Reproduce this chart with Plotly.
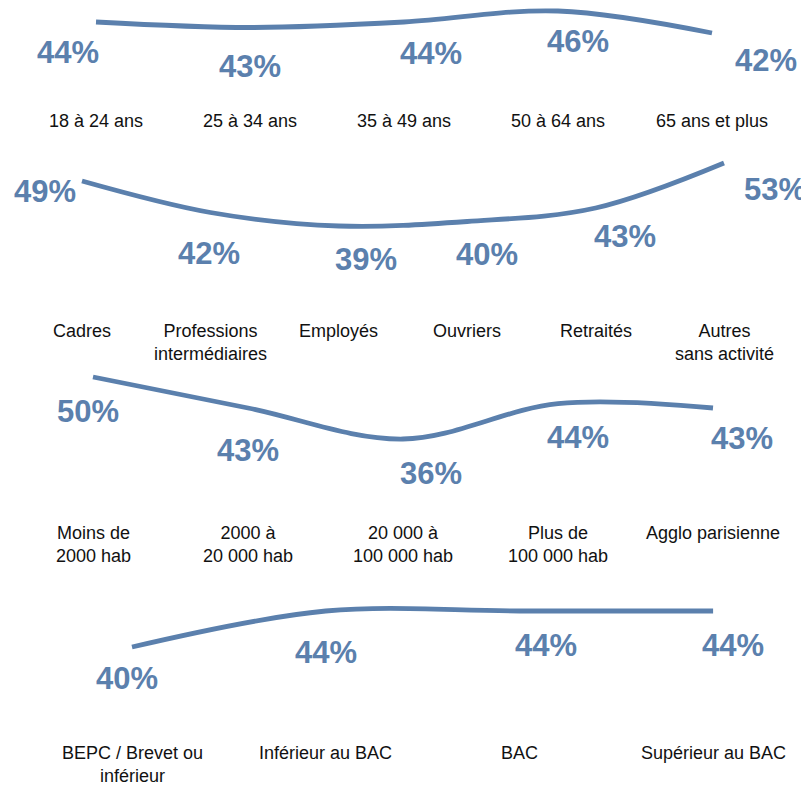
import plotly.graph_objects as go

# ---------------- data ----------------
AGE_LABELS = ["18 à 24 ans", "25 à 34 ans", "35 à 49 ans", "50 à 64 ans", "65 ans et plus"]
AGE_VALUES = [44, 43, 44, 46, 42]

CSP_LABELS = ["Cadres", "Professions<br>intermédiaires", "Employés", "Ouvriers",
              "Retraités", "Autres<br>sans activité"]
CSP_VALUES = [49, 42, 39, 40, 43, 53]

AGGLO_LABELS = ["Moins de<br>2000 hab", "2000 à<br>20 000 hab", "20 000 à<br>100 000 hab",
                "Plus de<br>100 000 hab", "Agglo parisienne"]
AGGLO_VALUES = [50, 43, 36, 44, 43]

DIPLOME_LABELS = ["BEPC / Brevet ou<br>inférieur", "Inférieur au BAC", "BAC", "Supérieur au BAC"]
DIPLOME_VALUES = [40, 44, 44, 44]

# ---------------- layout / style ----------------
W, H = 809, 787
PAGE = 8  # default page margin of the html body
LINE_COLOR = "#5b80ad"
FONT = "Liberation Sans, Arial, sans-serif"

# per panel: first point x (px), spacing (px), reference value, its y (px), px per unit,
# category first-line centre (px), label offsets (dx, dy) in px
PANELS = [
    dict(labels=AGE_LABELS, values=AGE_VALUES, x0=96, dx=154, vref=44, ypx=22, k=5.5, cat=120,
         offs=[(-28, 30), (0, 39), (27, 31), (20, 30), (54, 27)]),
    dict(labels=CSP_LABELS, values=CSP_VALUES, x0=82, dx=128.4, vref=49, ypx=181, k=4.5, cat=331,
         offs=[(-37, 10), (-1, 41), (27, 33), (20, 33), (29, 28), (51, 26)]),
    dict(labels=AGGLO_LABELS, values=AGGLO_VALUES, x0=93, dx=155, vref=50, ypx=377, k=4.43, cat=532,
         offs=[(-5, 34), (0, 42), (28, 34), (20, 34), (29, 30)]),
    dict(labels=DIPLOME_LABELS, values=DIPLOME_VALUES, x0=132, dx=193.7, vref=40, ypx=647, k=9, cat=752,
         offs=[(-5, 31), (0, 41), (27, 34), (20, 34)]),
]

fig = go.Figure()
annotations = []
for n, p in enumerate(PANELS, start=1):
    xs = list(range(len(p["values"])))
    xa = "x" if n == 1 else f"x{n}"
    ya = "y" if n == 1 else f"y{n}"
    fig.add_trace(go.Scatter(
        x=xs, y=p["values"], mode="lines",
        line=dict(color=LINE_COLOR, width=4.8, shape="spline", smoothing=1.0),
        xaxis=xa, yaxis=ya, hoverinfo="skip", showlegend=False,
    ))
    xr0 = -(p["x0"] - PAGE) / p["dx"]
    xr1 = xr0 + W / p["dx"]
    yr1 = p["vref"] + (p["ypx"] - PAGE) / p["k"]
    yr0 = yr1 - H / p["k"]
    axkey_x = "xaxis" if n == 1 else f"xaxis{n}"
    axkey_y = "yaxis" if n == 1 else f"yaxis{n}"
    fig.update_layout(**{
        axkey_x: dict(domain=[0, 1], range=[xr0, xr1], visible=False, anchor=ya, fixedrange=True),
        axkey_y: dict(domain=[0, 1], range=[yr0, yr1], visible=False, anchor=xa, fixedrange=True),
    })
    for i, (v, lab) in enumerate(zip(p["values"], p["labels"])):
        ox, oy = p["offs"][i]
        annotations.append(dict(
            x=i, y=v, xref=xa, yref=ya, text=f"{v}%", showarrow=False,
            xanchor="center", yanchor="middle", xshift=ox, yshift=-oy,
            font=dict(family=FONT, size=31, color=LINE_COLOR, weight="bold"),
        ))
        annotations.append(dict(
            x=i, y=1 - (p["cat"] - PAGE - 11.5) / H, xref=xa, yref="paper", text=lab,
            showarrow=False, xanchor="center", yanchor="top", align="center",
            font=dict(family=FONT, size=18, color="#111111"),
        ))

fig.update_layout(
    width=W, height=H,
    margin=dict(l=0, r=0, t=0, b=0),
    paper_bgcolor="white", plot_bgcolor="rgba(0,0,0,0)",
    annotations=annotations,
    showlegend=False,
)

fig.write_html("out.html")
